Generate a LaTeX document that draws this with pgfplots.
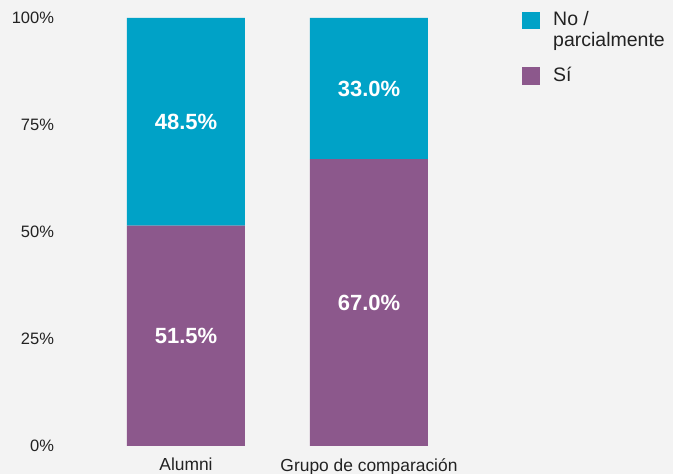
\documentclass[border=0pt]{standalone}
\usepackage{fontspec}
\setmainfont{Liberation Sans}
\usepackage{pgfplots}
\pgfplotsset{compat=1.18}
\definecolor{bgcol}{HTML}{F3F3F3}
\definecolor{colNo}{HTML}{00A2C7}
\definecolor{colSi}{HTML}{8C588C}
\definecolor{txt}{HTML}{222222}
\tikzset{vallabel/.style={text=white, font=\bfseries\fontsize{22}{24}\selectfont}}
\begin{document}
\begin{tikzpicture}
\useasboundingbox (-76.2pt,-28pt) rectangle (596.8pt,446pt);
\fill[bgcol] (-76.2pt,-28pt) rectangle (596.8pt,446pt);
\begin{axis}[
  at={(0,0)}, anchor=south west,
  scale only axis, width=402.6pt, height=428pt,
  ybar stacked, bar width=118pt,
  xmin=-0.6, xmax=1.6, ymin=0, ymax=100,
  axis line style={draw=none},
  major tick length=0pt,
  xtick={0,1}, xticklabels={Alumni, Grupo de comparación},
  ytick={0,25,50,75,100},
  yticklabels={0\%,25\%,50\%,75\%,100\%},
  tick label style={font=\fontsize{16.5}{19}\selectfont, text=txt},
  yticklabel style={anchor=east, inner sep=0pt, xshift=-22pt},
  xticklabel style={anchor=north, inner sep=0pt, yshift=-12pt, font=\fontsize{17.4}{20}\selectfont},
  legend style={at={(1.107,1.0171)}, anchor=north west, draw=none, fill=none,
    inner sep=0pt, font=\fontsize{19.5}{21}\selectfont, text=txt,
    row sep=0pt, column sep=13.7pt,
    nodes={inner sep=0pt, text height=15pt, text depth=6pt},
    cells={anchor=base west}},
]
\addlegendimage{legend image code/.code={\fill[colNo] (0pt,-2.5pt) rectangle (17pt,14pt);}}
\addlegendentry{No /}
\addlegendimage{legend image code/.code={\path[draw=none, fill=none] (0pt,-19.3pt) rectangle (17pt,0pt);}}
\addlegendentry{parcialmente}
\addlegendimage{legend image code/.code={\fill[colSi] (0pt,-3pt) rectangle (17pt,14.3pt);}}
\addlegendentry{Sí}
\addplot[fill=colSi, draw=none, forget plot] coordinates {(0,51.5) (1,67.0)};
\addplot[fill=colNo, draw=none, forget plot] coordinates {(0,48.5) (1,33.0)};
\coordinate (la) at (axis cs:0,25.75);
\coordinate (lb) at (axis cs:0,75.75);
\coordinate (lc) at (axis cs:1,33.5);
\coordinate (ld) at (axis cs:1,83.5);
\end{axis}
\node[vallabel] at (la) {51.5\%};
\node[vallabel] at (lb) {48.5\%};
\node[vallabel] at (lc) {67.0\%};
\node[vallabel] at (ld) {33.0\%};
\end{tikzpicture}
\end{document}
